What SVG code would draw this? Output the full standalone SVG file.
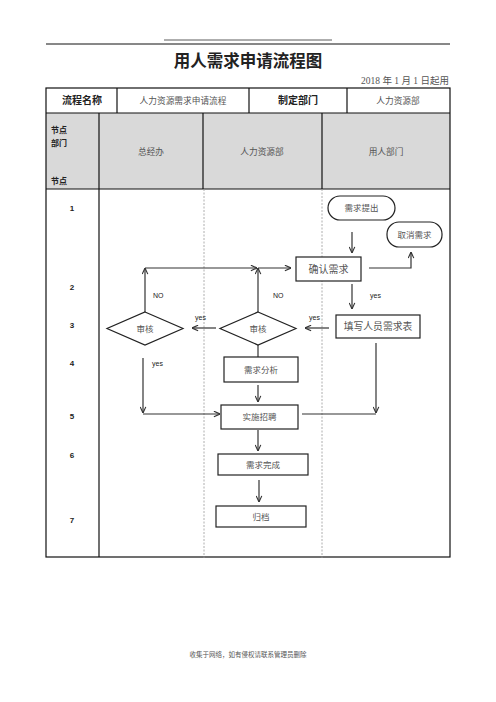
<svg xmlns="http://www.w3.org/2000/svg" width="496" height="702" viewBox="0 0 496 702">
<style>
.t{font-family:"Liberation Serif","Noto Sans CJK SC",serif;fill:#555;}
.b{font-family:"Liberation Sans","Noto Sans CJK SC",sans-serif;font-weight:bold;fill:#222;}
.s{font-family:"Liberation Sans","Noto Sans CJK SC",sans-serif;fill:#222;font-size:7px;}
.box{fill:#fff;stroke:#222;stroke-width:1.2;}
.ln{fill:none;stroke:#333;stroke-width:1.2;}
.grid{fill:none;stroke:#111;stroke-width:1.2;}
.dash{stroke:#999;stroke-width:0.8;stroke-dasharray:2,1.5;}
</style>
<defs>
<marker id="ar" viewBox="0 0 8 8" refX="7.5" refY="4" markerWidth="7" markerHeight="7" orient="auto" markerUnits="userSpaceOnUse">
<path d="M0.5,0.8 L7.5,4 L0.5,7.2" fill="none" stroke="#333" stroke-width="1.3"/>
</marker>
</defs>
<rect width="496" height="702" fill="#fff"/>
<g id="header">
<line x1="164" y1="40" x2="332" y2="40" stroke="#333" stroke-width="0.8"/>
<line x1="46" y1="44" x2="450" y2="44" stroke="#111" stroke-width="1"/>
<text x="248" y="67" text-anchor="middle" class="b" font-size="16.5">用人需求申请流程图</text>
<text x="449" y="84" text-anchor="end" class="t" font-size="9.5">2018 年 1 月 1 日起用</text>
</g>
<g id="table">
<rect x="99" y="113" width="351" height="76" fill="#d9d9d9"/>
<rect x="46" y="113" width="53" height="76" fill="#d9d9d9"/>
<rect x="46" y="88" width="404" height="469" class="grid"/>
<line x1="46" y1="113" x2="450" y2="113" class="grid"/>
<line x1="46" y1="189" x2="450" y2="189" class="grid"/>
<line x1="117" y1="88" x2="117" y2="113" class="grid"/>
<line x1="249" y1="88" x2="249" y2="113" class="grid"/>
<line x1="347" y1="88" x2="347" y2="113" class="grid"/>
<line x1="99" y1="113" x2="99" y2="557" class="grid"/>
<line x1="203" y1="113" x2="203" y2="189" class="grid"/>
<line x1="322" y1="113" x2="322" y2="189" class="grid"/>
<line x1="204" y1="189" x2="204" y2="558" class="dash"/>
<line x1="322" y1="189" x2="322" y2="558" class="dash"/>
<text x="82" y="104" text-anchor="middle" class="b" font-size="10">流程名称</text>
<text x="183" y="104" text-anchor="middle" class="t" font-size="8.7">人力资源需求申请流程</text>
<text x="298" y="104" text-anchor="middle" class="b" font-size="10">制定部门</text>
<text x="398" y="104" text-anchor="middle" class="t" font-size="8.7">人力资源部</text>
<text x="51" y="133" class="b" font-size="8">节点</text>
<text x="51" y="146" class="b" font-size="8">部门</text>
<text x="51" y="184" class="b" font-size="8">节点</text>
<text x="151" y="155" text-anchor="middle" class="t" font-size="8.7">总经办</text>
<text x="262" y="155" text-anchor="middle" class="t" font-size="8.7">人力资源部</text>
<text x="386" y="155" text-anchor="middle" class="t" font-size="8.7">用人部门</text>
<g class="b" font-size="8" text-anchor="middle">
<text x="72" y="211">1</text>
<text x="72" y="290">2</text>
<text x="72" y="328">3</text>
<text x="72" y="366">4</text>
<text x="72" y="419">5</text>
<text x="72" y="458">6</text>
<text x="72" y="523">7</text>
</g>
</g>
<g id="connectors">
<line x1="352" y1="232" x2="352" y2="253" class="ln" marker-end="url(#ar)"/>
<polyline points="369,268 411,268 411,252" class="ln" marker-end="url(#ar)"/>
<line x1="352" y1="284" x2="352" y2="309" class="ln" marker-end="url(#ar)"/>
<line x1="329" y1="328" x2="305" y2="328" class="ln" marker-end="url(#ar)"/>
<line x1="216" y1="328" x2="192" y2="328" class="ln" marker-end="url(#ar)"/>
<line x1="145" y1="312" x2="145" y2="268" class="ln" marker-end="url(#ar)"/>
<line x1="145" y1="268" x2="257" y2="268" class="ln" marker-end="url(#ar)"/>
<line x1="258" y1="312" x2="258" y2="268" class="ln" marker-end="url(#ar)"/>
<line x1="258" y1="268" x2="291" y2="268" class="ln" marker-end="url(#ar)"/>
<line x1="258" y1="345" x2="258" y2="357" class="ln"/>
<line x1="143" y1="358" x2="143" y2="413" class="ln" marker-end="url(#ar)"/>
<line x1="143" y1="414" x2="220" y2="414" class="ln" marker-end="url(#ar)"/>
<line x1="258" y1="385" x2="258" y2="402" class="ln" marker-end="url(#ar)"/>
<line x1="376" y1="343" x2="376" y2="413" class="ln" marker-end="url(#ar)"/>
<line x1="302" y1="414" x2="376" y2="414" class="ln"/>
<line x1="258" y1="430" x2="258" y2="451" class="ln" marker-end="url(#ar)"/>
<line x1="259" y1="480" x2="259" y2="502" class="ln" marker-end="url(#ar)"/>
<g class="s">
<text x="370" y="298">yes</text>
<text x="309" y="320">yes</text>
<text x="195" y="320">yes</text>
<text x="153" y="298">NO</text>
<text x="273" y="298">NO</text>
<text x="152" y="366">yes</text>
</g>
</g>
<g id="n_tichu">
<rect x="328" y="196" width="67" height="24" rx="12" class="box"/>
<text x="361.5" y="211" text-anchor="middle" class="t" font-size="8.5">需求提出</text>
</g>
<g id="n_quxiao">
<rect x="387" y="222" width="55" height="25" rx="12" class="box"/>
<text x="414.5" y="237.5" text-anchor="middle" class="t" font-size="8.5">取消需求</text>
</g>
<g id="n_queren">
<rect x="296" y="257" width="65" height="24" class="box"/>
<text x="328.5" y="272.5" text-anchor="middle" class="t" font-size="10">确认需求</text>
</g>
<g id="n_tianxie">
<rect x="336" y="315" width="84" height="23" class="box"/>
<text x="378" y="330" text-anchor="middle" class="t" font-size="9.8">填写人员需求表</text>
</g>
<g id="n_shenhe1">
<polygon points="145,312 183,328.5 145,345 107,328.5" class="box"/>
<text x="145" y="332" text-anchor="middle" class="t" font-size="8.5">审核</text>
</g>
<g id="n_shenhe2">
<polygon points="258,312 296,328.5 258,345 220,328.5" class="box"/>
<text x="258" y="332" text-anchor="middle" class="t" font-size="8.5">审核</text>
</g>
<g id="n_fenxi">
<rect x="224" y="357" width="74" height="25" class="box"/>
<text x="261" y="372.5" text-anchor="middle" class="t" font-size="8.5">需求分析</text>
</g>
<g id="n_zhaopin">
<rect x="221" y="405" width="77" height="24" class="box"/>
<text x="259.5" y="420" text-anchor="middle" class="t" font-size="8.5">实施招聘</text>
</g>
<g id="n_wancheng">
<rect x="218" y="454" width="90" height="21" class="box"/>
<text x="263" y="467.5" text-anchor="middle" class="t" font-size="8.5">需求完成</text>
</g>
<g id="n_guidang">
<rect x="216" y="506" width="90" height="21" class="box"/>
<text x="261" y="519.5" text-anchor="middle" class="t" font-size="8.5">归档</text>
</g>
<text x="248" y="657" text-anchor="middle" class="t" font-size="6.5" fill="#444">收集于网络，如有侵权请联系管理员删除</text>
</svg>
